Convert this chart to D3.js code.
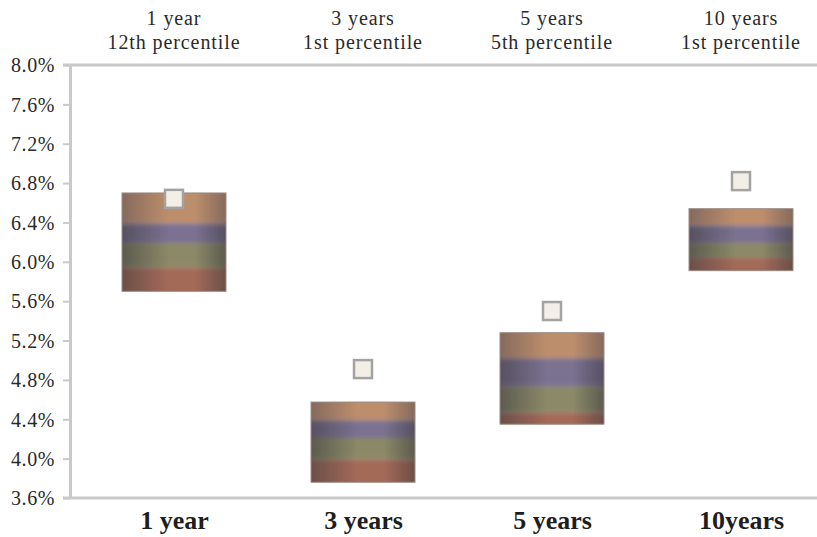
<!DOCTYPE html>
<html>
<head>
<meta charset="utf-8">
<script src="https://cdn.jsdelivr.net/npm/d3@7"></script>
<style>
  body { margin: 0; background: #fff; }
  svg { display: block; font-family: "Liberation Serif", "Times New Roman", serif; }
</style>
</head>
<body>
<svg class="chart"></svg>
<script>
// categories and labels
var categories = ["1 year", "3 years", "5 years", "10 years"];
var bottomLabels = ["1 year", "3 years", "5 years", "10years"];
var topLine1 = ["1 year", "3 years", "5 years", "10 years"];
var topLine2 = ["12th percentile", "1st percentile", "5th percentile", "1st percentile"];

// band boundaries (%), top to bottom
var bandTop = [6.70, 4.575, 5.28, 6.54];
var band2 = [6.39, 4.39, 5.02, 6.37];
var band3 = [6.19, 4.21, 4.73, 6.19];
var band4 = [5.94, 3.99, 4.47, 6.04];
var bandBottom = [5.70, 3.76, 4.35, 5.91];
// square marker (%)
var marker = [6.64, 4.91, 5.50, 6.82];

var yTicks = [3.6, 4.0, 4.4, 4.8, 5.2, 5.6, 6.0, 6.4, 6.8, 7.2, 7.6, 8.0];

// band colours: [edge, centre]
var bandColors = [
    ["#866a5e", "#bd8e6c"],
    ["#575162", "#7a7290"],
    ["#5c5b4f", "#8b8968"],
    ["#6c4f48", "#a46a59"]
];

const width = 817;
const height = 537;
const marginLeft = 70;
const boxWidth = 104;
const markerSize = 18;

var svg = d3.select(".chart")
    .attr("width", width)
    .attr("height", height);

var x = d3.scalePoint()
    .domain(categories)
    .range([174, 741]);

var y = d3.scaleLinear()
    .domain([3.6, 8.0])
    .range([498, 65]);

// gradients
var defs = svg.append("defs");
bandColors.forEach((c, i) => {
    var g = defs.append("linearGradient")
        .attr("id", "band" + i)
        .attr("x1", "0%").attr("x2", "100%")
        .attr("y1", "0%").attr("y2", "0%");
    g.append("stop").attr("offset", "0%").attr("stop-color", c[0]);
    g.append("stop").attr("offset", "45%").attr("stop-color", c[1]);
    g.append("stop").attr("offset", "70%").attr("stop-color", c[1]);
    g.append("stop").attr("offset", "100%").attr("stop-color", c[0]);
});
defs.append("filter")
    .attr("id", "soft")
    .attr("x", "-5%").attr("y", "-20%")
    .attr("width", "110%").attr("height", "140%")
    .append("feGaussianBlur")
    .attr("stdDeviation", "0 2");

// frame lines
svg.append("line")
    .attr("x1", marginLeft - 7).attr("x2", width)
    .attr("y1", y(8.0)).attr("y2", y(8.0))
    .attr("stroke", "#c9c9c9").attr("stroke-width", 3);
svg.append("line")
    .attr("x1", marginLeft - 7).attr("x2", width)
    .attr("y1", y(3.6)).attr("y2", y(3.6))
    .attr("stroke", "#c9c9c9").attr("stroke-width", 3);

// y axis
var yAxis = d3.axisLeft(y)
    .tickValues(yTicks)
    .tickFormat(d => d.toFixed(1) + "%")
    .tickSize(7)
    .tickSizeOuter(0)
    .tickPadding(8);

var yAxisGroup = svg.append("g")
    .attr("transform", `translate(${marginLeft},0)`)
    .call(yAxis);
yAxisGroup.select(".domain").attr("stroke", "#c9c9c9").attr("stroke-width", 3);
yAxisGroup.selectAll(".tick line").attr("stroke", "#c9c9c9").attr("stroke-width", 2);
yAxisGroup.selectAll("text")
    .style("font-family", "Liberation Serif")
    .style("font-size", "20px")
    .style("letter-spacing", "0.6px")
    .attr("fill", "#2a2a2a")
    .attr("dy", "0.34em");

// boxes
var rows = categories.map((c, i) => ({
    cat: c,
    edges: [bandTop[i], band2[i], band3[i], band4[i], bandBottom[i]],
    marker: marker[i]
}));

var boxes = svg.selectAll(".box")
    .data(rows)
    .enter()
    .append("g")
    .attr("class", "box");

boxes.append("clipPath")
    .attr("id", (d, i) => "clip" + i)
    .append("rect")
    .attr("x", d => x(d.cat) - boxWidth / 2)
    .attr("y", d => y(d.edges[0]))
    .attr("width", boxWidth)
    .attr("height", d => y(d.edges[4]) - y(d.edges[0]));

var inner = boxes.append("g")
    .attr("clip-path", (d, i) => `url(#clip${i})`)
    .append("g")
    .attr("filter", "url(#soft)");

inner.selectAll("rect")
    .data(d => [0, 1, 2, 3].map(k => ({
        cat: d.cat,
        k: k,
        top: d.edges[k],
        bottom: d.edges[k + 1]
    })))
    .enter()
    .append("rect")
    .attr("x", d => x(d.cat) - boxWidth / 2)
    .attr("y", d => y(d.top) - (d.k === 0 ? 6 : 0))
    .attr("width", boxWidth)
    .attr("height", d => y(d.bottom) - y(d.top) + (d.k === 0 || d.k === 3 ? 6 : 0))
    .attr("fill", d => `url(#band${d.k})`);

boxes.append("rect")
    .attr("x", d => x(d.cat) - boxWidth / 2)
    .attr("y", d => y(d.edges[0]))
    .attr("width", boxWidth)
    .attr("height", d => y(d.edges[4]) - y(d.edges[0]))
    .attr("fill", "none")
    .attr("stroke", "#9a8c84")
    .attr("stroke-width", 1);

// markers
boxes.append("rect")
    .attr("x", d => x(d.cat) - markerSize / 2)
    .attr("y", d => y(d.marker) - markerSize / 2)
    .attr("width", markerSize)
    .attr("height", markerSize)
    .attr("fill", "#f3efe7")
    .attr("stroke", "#a3a3a3")
    .attr("stroke-width", 2.5);

// top labels
var topLabels = svg.selectAll(".top-label")
    .data(categories)
    .enter()
    .append("text")
    .attr("class", "top-label")
    .attr("text-anchor", "middle")
    .style("font-size", "20px")
    .style("letter-spacing", "0.9px")
    .attr("fill", "#2a2a2a");
topLabels.append("tspan")
    .attr("x", d => x(d))
    .attr("y", 25)
    .text((d, i) => topLine1[i]);
topLabels.append("tspan")
    .attr("x", d => x(d))
    .attr("y", 49)
    .text((d, i) => topLine2[i]);

// bottom labels
var xAxis = d3.axisBottom(x)
    .tickSize(0)
    .tickPadding(13)
    .tickFormat((d, i) => bottomLabels[i]);

var xAxisGroup = svg.append("g")
    .attr("transform", `translate(0,${y(3.6)})`)
    .call(xAxis);
xAxisGroup.select(".domain").remove();
xAxisGroup.selectAll("text")
    .style("font-family", "Liberation Serif")
    .style("font-size", "26px")
    .style("font-weight", "bold")
    .attr("fill", "#1e1e1e");
</script>
</body>
</html>
